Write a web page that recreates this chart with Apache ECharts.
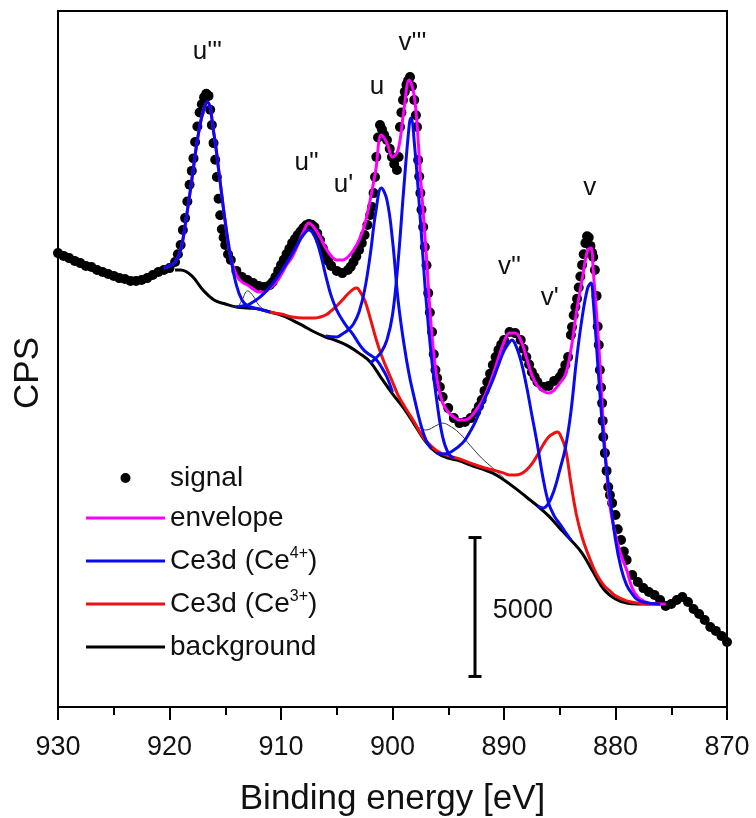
<!DOCTYPE html>
<html>
<head>
<meta charset="utf-8">
<script src="https://cdn.jsdelivr.net/npm/echarts@6/dist/echarts.min.js"></script>
<style>
  html, body { margin: 0; padding: 0; background: #fff; }
  #chart { width: 756px; height: 818px; }
</style>
</head>
<body>
<div id="chart"></div>
<script>
// measured spectrum, [binding energy eV, CPS]
const signal = [
  [930,16340],[929.5,16240],[929,16160],[928.5,16060],[928,15980],[927.5,15880],[927,15840],[926.5,15730],
  [926,15660],[925.5,15590],[925,15520],[924.5,15440],[924,15410],[923.5,15340],[923,15340],[922.5,15370],
  [922,15440],[921.5,15550],[921,15660],[920.5,15730],[920,15800],[919.5,16020],[919.25,16300],[919,16630],
  [918.8,17170],[918.6,17600],[918.4,18200],[918.2,18800],[918,19300],[917.85,19750],[917.7,20340],[917.5,20900],
  [917.3,21400],[917.1,21700],[916.9,21950],[916.7,22080],[916.5,22000],[916.35,21500],[916.2,20950],[916.05,20300],
  [915.9,19700],[915.75,19080],[915.6,18300],[915.45,17700],[915.3,17200],[915.15,16900],[915,16630],[914.75,16300],
  [914.5,16090],[914,15700],[913.5,15480],[913,15370],[912.5,15260],[912,15160],[911.5,15120],[911,15190],
  [910.75,15300],[910.5,15480],[910.25,15700],[910,15910],[909.75,16100],[909.5,16310],[909.25,16500],[909,16700],
  [908.75,16850],[908.5,16990],[908.25,17120],[908,17240],[907.75,17340],[907.5,17390],[907.25,17360],[907,17280],
  [906.75,17050],[906.5,16810],[906.25,16520],[906,16240],[905.75,16050],[905.5,15880],[905,15700],[904.5,15620],
  [904,15730],[903.75,15850],[903.5,16020],[903.25,16220],[903,16450],[902.75,16700],[902.5,16990],[902.25,17350],
  [902,17710],[901.84,18000],[901.7,18500],[901.57,19080],[901.45,19800],[901.3,20500],[901.12,20950],[900.95,20800],
  [900.75,20600],[900.5,20410],[900.25,20100],[900.05,19800],[899.85,19550],[899.6,19330],[899.45,19800],[899.33,20880],
  [899.2,21400],[899.06,21850],[898.9,22150],[898.75,22400],[898.6,22550],[898.43,22680],[898.25,22350],[898.05,21850],
  [897.9,21300],[897.8,20880],[897.7,19690],[897.6,19100],[897.5,18500],[897.4,17900],[897.25,17280],[897.1,16560],
  [896.95,15900],[896.8,14900],[896.65,14200],[896.45,13500],[896.3,12700],[896.15,12130],[896,11840],[895.75,11520],
  [895.5,11160],[895,10760],[894.5,10400],[894,10220],[893.5,10260],[893,10400],[892.5,10620],[892.25,10830],
  [892,11050],[891.75,11380],[891.5,11700],[891.25,12000],[891,12310],[890.75,12600],[890.5,12850],[890.25,13050],
  [890,13210],[889.5,13500],[889,13460],[888.5,13210],[888.25,12900],[888,12600],[887.75,12330],[887.5,12060],
  [887.25,11880],[887,11700],[886.5,11520],[886,11560],[885.5,11740],[885,11880],[884.75,12050],[884.5,12310],
  [884.25,12600],[884,13390],[883.9,13680],[883.75,14100],[883.6,14400],[883.45,14700],[883.3,15100],[883.15,15500],
  [883,15910],[882.85,16300],[882.7,16700],[882.55,16950],[882.4,16900],[882.25,16600],[882.1,16350],[882,16200],
  [881.85,15730],[881.7,14800],[881.6,13700],[881.5,13030],[881.4,12130],[881.3,11500],[881.2,10940],[881.15,10300],
  [881.1,9720],[880.95,9140],[880.8,8500],[880.65,7920],[880.5,7630],[880.3,7340],[880,6910],[879.8,6400],
  [879.5,6010],[879.25,5600],[879,5290],[878.5,4750],[878,4500],[877.5,4280],[877,4140],[876.5,4030],
  [876,3850],[875.5,3640],[875,3710],[874.5,3850],[874,3960],[873.5,3780],[873,3530],[872.5,3350],
  [872,3130],[871.5,2880],[871,2740],[870.5,2560],[870,2340]
];

const envelope = [
  [920.5,15800],[920,15880],[919.5,16020],[919,16450],[918.5,17600],[918,18970],[917.5,20410],[917,21420],
  [916.6,21780],[916,20590],[915.5,19040],[915,17460],[914.5,16160],[914,15550],[913.5,15300],[913,15190],
  [912.5,15050],[912,14940],[911.5,14940],[911,15080],[910.5,15260],[910,15550],[909.5,15910],[909,16200],
  [908.5,16630],[908,17100],[907.5,17420],[907,17240],[906.5,16920],[906,16520],[905.5,16240],[905,16090],
  [904.5,16090],[904,16200],[903.5,16450],[903,16810],[902.5,17350],[902,18250],[901.5,19330],[901,20590],
  [900.5,20300],[900,19800],[899.5,20050],[899,21420],[898.5,22570],[898,21850],[897.5,19150],[897,16450],
  [896.5,13570],[896,11770],[895.5,10940],[895,10620],[894.5,10440],[894,10330],[893.5,10330],[893,10440],
  [892.5,10690],[892,10980],[891.5,11410],[891,11950],[890.5,12560],[890,13140],[889.5,13460],[889,13460],
  [888.5,13210],[888,12600],[887.5,11950],[887,11560],[886.5,11380],[886,11300],[885.5,11410],[885,11660],
  [884.5,11950],[884,12850],[883.5,14220],[883,15370],[882.5,16450],[882.2,16520],[882,15730],[881.5,13030],
  [881,9610],[880.5,7270],[880,6190],[879.5,5470],[879,4930],[878.5,4280],[878,3960],[877.5,3820],
  [877,3740],[876,3710],[875.5,3710]
];

const background = [
  [919.5,15730],[919,15730],[918,15520],[917,15010],[916,14650],[915,14510],[914,14400],[913,14360],
  [912,14330],[911,14220],[910,14110],[909,13930],[908,13720],[907,13500],[906,13320],[905,13180],
  [904,13000],[903,12740],[902,12420],[901,11840],[900,11270],[899,10760],[898,10150],[897,9540],
  [896,9140],[895,8960],[894,8860],[893,8710],[892,8570],[891,8420],[890,8170],[889,7880],
  [888,7560],[887,7240],[886,6880],[885,6440],[884,6010],[883,5540],[882,4860],[881,4210],
  [880,3890],[879,3740],[878,3710],[877,3710],[876,3710],[875.5,3710]
];

// Ce4+ components (one array per peak)
const ce4U3 = [
  [920.5,15800],[920,15880],[919.5,16020],[919,16450],[918.5,17600],[918,18970],[917.5,20410],[917,21420],
  [916.6,21780],[916,20590],[915.5,19040],[915,17460],[914.5,16160],[914,15190],[913.5,14650],[913,14440],
  [912,14330],[911,14220]
];
const ce4U2 = [
  [914,14400],[913.5,14440],[913,14470],[912.5,14580],[912,14720],[911.5,14900],[911,15120],[910.5,15370],
  [910,15660],[909.5,15980],[909,16310],[908.5,16670],[908,16990],[907.5,17170],[907,16960],[906.5,16380],
  [906,15550],[905.5,14800],[905,14290],[904.5,13930],[904,13640],[903.5,13390],[903,13070],[902.5,12820],
  [902,12670],[901.5,12530],[901,12240],[900.5,11880],[900,11340]
];
const ce4U = [
  [906,13360],[905,13320],[904.5,13430],[904,13570],[903.5,13790],[903,14220],[902.5,15010],[902,16270],
  [901.5,17820],[901,18680],[900.5,18250],[900,16810],[899.5,14650],[899,13140],[898.5,11950],[898,11050],
  [897.5,10220],[897,9610],[896.5,9290]
];
const ce4V3 = [
  [902,12380],[901.5,12560],[901,12780],[900.5,13210],[900,14110],[899.5,16020],[899,18610],[898.5,20950],
  [898.35,21200],[898,20120],[897.5,17530],[897,14720],[896.5,12560],[896,10940],[895.5,9720],[895,9140],
  [894.5,8960]
];
const ce4V2 = [
  [896,9140],[895.5,9110],[895,9140],[894.5,9250],[894,9400],[893.5,9610],[893,9940],[892.5,10330],
  [892,10840],[891.5,11300],[891,11770],[890.5,12310],[890,12820],[889.5,13140],[889.3,13210],[889,13070],
  [888.5,12490],[888,11590],[887.5,10510],[887,9430],[886.5,8240],[886,7340],[885.5,6880],[885,6590],
  [884.5,6300],[884,6010]
];
const ce4V = [
  [887,7240],[886.5,7160],[886,7340],[885.5,7810],[885,8530],[884.5,9320],[884,10620],[883.5,12490],
  [883,14000],[882.5,15080],[882.2,15260],[882,14650],[881.5,11840],[881,9320],[880.5,7560],[880,6010],
  [879.5,5000],[879,4390],[878.5,4070],[878,3850],[877,3740],[876,3710]
];

// Ce3+ components u' and v'
const ce3 = [
  [911,14220],[910.5,14180],[910,14150],[909,14040],[908,14000],[907,14000],[906.5,14040],[906,14110],
  [905.5,14260],[905,14440],[904.5,14650],[904,14870],[903.5,15050],[903.2,15080],[903,15010],[902.5,14650],
  [902,14000],[901.5,13280],[901,12670],[900.5,12170],[900,11700],[899.5,11230],[899,10870],[898.5,10550],
  [898,10220],[897.5,9860],[897,9580],[896,9220],[895,9040],[894,8930],[893,8780],[892,8640],
  [891,8530],[890,8420],[889.5,8350],[889,8350],[888.5,8390],[888,8530],[887.5,8750],[887,9070],
  [886.5,9430],[886,9720],[885.5,9860],[885.2,9900],[885,9830],[884.5,9320],[884,8060],[883.5,6910],
  [883,6120],[882.5,5540],[882,5040],[881.5,4640],[881,4360],[880.5,4180],[880,4000],[879,3820],
  [878,3740],[877,3710],[876,3710]
];

// weak extra components (thin black)
const extraA = [[914.5,14440],[914,14400],[913.5,14650],[913,14980],[912.5,14800],[912,14470],[911.5,14290]];
const extraB = [[898,10150],[897,9970],[896,10150],[895.5,10220],[895,10150],[894,9860],[893,9400],[892,8960],[891,8600],[890,8240]];

const peakLabels = [
  ["u'''", 916.6, 23580], ["u''", 907.7, 19580], ["u'", 904.4, 18790], ['u', 901.4, 22320],
  ["v'''", 898.2, 23900], ["v''", 889.5, 15840], ["v'", 885.9, 14720], ['v', 882.3, 18680]
];

const scaleBar = [[892.6, 1100], [892.6, 6100]];
const scaleText = [[891.0, 3490]];

const legendNames = ['signal', 'envelope', 'Ce3d (Ce4+)', 'Ce3d (Ce3+)', 'background'];
const legendTops = [464, 504, 546, 589, 633];

const FONT = "'Liberation Sans', Arial, sans-serif";
const BLUE = '#0a0aee';
const RED = '#ee1111';
const MAGENTA = '#ff00ff';
const LINE_ICON = 'path://M0,0H79V3H0Z';
// dot in the middle of a 79 px wide box (tiny end segments keep the box width)
const DOT_ICON = 'path://M0,5h0.01M34.5,5a5,5 0 1,0 10,0a5,5 0 1,0 -10,0M78.99,5h0.01';

const chart = echarts.init(document.getElementById('chart'));

function curve(name, data, color, width) {
  return {
    type: 'line', name: name, data: data, smooth: 0.4, symbol: 'none',
    lineStyle: { color: color, width: width }, itemStyle: { color: color },
    emphasis: { disabled: true }
  };
}

function legendFormatter(n) {
  if (n === 'Ce3d (Ce4+)') return '{n|Ce3d (Ce}{s|4+}{n|)}';
  if (n === 'Ce3d (Ce3+)') return '{n|Ce3d (Ce}{s|3+}{n|)}';
  return '{n|' + n + '}';
}

const legends = legendNames.map((name, i) => ({
  orient: 'vertical', left: 86, top: legendTops[i], padding: 0,
  itemWidth: 79, itemHeight: 10, selectedMode: false,
  data: [{ name: name, icon: name === 'signal' ? DOT_ICON : LINE_ICON }],
  formatter: legendFormatter,
  textStyle: {
    color: '#111', fontFamily: FONT, fontSize: 28,
    rich: {
      n: { fontSize: 28, fontFamily: FONT, color: '#111' },
      s: { fontSize: 16, fontFamily: FONT, color: '#111', verticalAlign: 'top', padding: [0, 0, 14, 0] }
    }
  }
}));

const option = {
  animation: false,
  textStyle: { fontFamily: FONT },
  grid: {
    left: 58, right: 29, top: 11, bottom: 111, show: true, borderColor: '#000', borderWidth: 2,
    containLabel: false, outerBoundsMode: 'none'
  },
  xAxis: {
    type: 'value', min: 870, max: 930, interval: 10, inverse: true,
    name: 'Binding energy [eV]', nameLocation: 'middle', nameGap: 75,
    nameTextStyle: { fontSize: 35, color: '#111', fontFamily: FONT },
    axisLine: { lineStyle: { color: '#000', width: 2 } },
    axisTick: { length: 13, lineStyle: { color: '#000', width: 2 } },
    minorTick: { show: true, splitNumber: 2, length: 8, lineStyle: { color: '#000', width: 2 } },
    splitLine: { show: false },
    axisLabel: { fontSize: 27, margin: 27, color: '#111', fontFamily: FONT }
  },
  yAxis: {
    type: 'value', min: 0, max: 25056,
    name: 'CPS', nameLocation: 'middle', nameGap: 12,
    nameTextStyle: { fontSize: 35, color: '#111', fontFamily: FONT, padding: [0, 28, 0, 0] },
    axisLine: { show: true, lineStyle: { color: '#000', width: 2 } },
    axisTick: { show: false }, axisLabel: { show: false }, splitLine: { show: false }
  },
  legend: legends,
  series: [
    {
      type: 'scatter', name: 'signal', data: signal, symbolSize: 10,
      itemStyle: { color: '#000', opacity: 1 }, emphasis: { disabled: true }
    },
    curve('background', background, '#000', 3),
    curve('extra', extraA, '#333', 1),
    curve('extra', extraB, '#333', 1),
    curve('Ce3d (Ce3+)', ce3, RED, 3),
    curve('envelope', envelope, MAGENTA, 3),
    curve('Ce3d (Ce4+)', ce4U3, BLUE, 3),
    curve('Ce3d (Ce4+)', ce4U2, BLUE, 3),
    curve('Ce3d (Ce4+)', ce4U, BLUE, 3),
    curve('Ce3d (Ce4+)', ce4V3, BLUE, 3),
    curve('Ce3d (Ce4+)', ce4V2, BLUE, 3),
    curve('Ce3d (Ce4+)', ce4V, BLUE, 3),
    {
      type: 'line', name: 'scale', data: scaleBar, symbol: 'rect', symbolSize: [13, 3],
      lineStyle: { color: '#000', width: 3 }, itemStyle: { color: '#000' }, emphasis: { disabled: true }
    },
    {
      type: 'scatter', name: 'scaleText', data: scaleText, symbolSize: 0,
      itemStyle: { opacity: 1 },
      label: { show: true, position: 'right', distance: 0, formatter: '5000', fontSize: 27, color: '#111', fontFamily: FONT }
    },
    {
      type: 'scatter', name: 'peaks', symbolSize: 0,
      itemStyle: { opacity: 1 },
      data: peakLabels.map(p => ({ name: p[0], value: [p[1], p[2]] })),
      label: { show: true, position: 'inside', formatter: '{b}', fontSize: 26, color: '#111', fontFamily: FONT }
    }
  ]
};

chart.setOption(option);
</script>
</body>
</html>
